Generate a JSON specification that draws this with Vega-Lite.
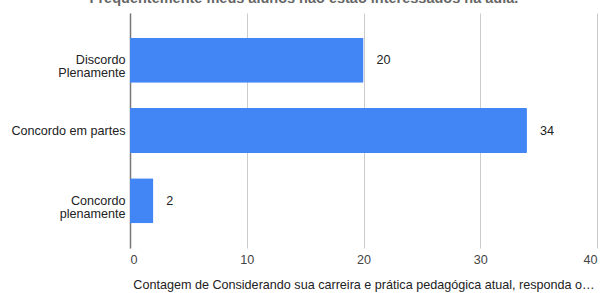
{
  "$schema": "https://vega.github.io/schema/vega-lite/v6.json",
  "autosize": {"type": "none"},
  "width": 467,
  "height": 235,
  "padding": {"left": 130, "top": 13, "right": 8, "bottom": 45},
  "background": "white",
  "title": {
    "text": "Frequentemente meus alunos não estão interessados na aula.",
    "fontSize": 14.5,
    "font": "Liberation Sans",
    "fontWeight": "bold",
    "color": "#666666",
    "anchor": "middle",
    "frame": "bounds",
    "offset": 0,
    "baseline": "alphabetic",
    "dy": 4
  },
  "data": {
    "values": [
      {"resposta": "Discordo Plenamente", "contagem": 20},
      {"resposta": "Concordo em partes", "contagem": 34},
      {"resposta": "Concordo plenamente", "contagem": 2}
    ]
  },
  "config": {
    "view": {"stroke": null},
    "font": "Liberation Sans"
  },
  "encoding": {
    "y": {
      "field": "resposta",
      "type": "nominal",
      "sort": null,
      "scale": {"paddingInner": 0.36, "paddingOuter": 0.35},
      "axis": {
        "title": null,
        "ticks": false,
        "domain": true,
        "domainColor": "#777777",
        "domainWidth": 1.5,
        "labelFont": "Liberation Sans",
        "labelFontSize": 12.6,
        "labelColor": "#222222",
        "labelPadding": 5,
        "labelLineHeight": 13,
        "labelExpr": "datum.value == 'Concordo em partes' ? datum.value : split(datum.value, ' ')"
      }
    },
    "x": {
      "field": "contagem",
      "type": "quantitative",
      "scale": {"domain": [0, 40], "nice": false},
      "axis": {
        "values": [0, 10, 20, 30, 40],
        "title": "Contagem de Considerando sua carreira e prática pedagógica atual, responda o…",
        "titleFont": "Liberation Sans",
        "titleFontSize": 12.6,
        "titleFontWeight": "normal",
        "titleColor": "#222222",
        "titlePadding": 13,
        "labelFont": "Liberation Sans",
        "labelFontSize": 12.6,
        "labelColor": "#444444",
        "labelPadding": 5,
        "ticks": false,
        "domain": false,
        "grid": true,
        "gridColor": "#cccccc",
        "gridWidth": 1
      }
    }
  },
  "layer": [
    {
      "mark": {"type": "bar", "color": "#4285F4", "cornerRadiusEnd": 1}
    },
    {
      "mark": {
        "type": "text",
        "align": "left",
        "baseline": "middle",
        "dx": 13,
        "font": "Liberation Sans",
        "fontSize": 12.6,
        "color": "#222222"
      },
      "encoding": {"text": {"field": "contagem", "type": "quantitative"}}
    }
  ]
}
